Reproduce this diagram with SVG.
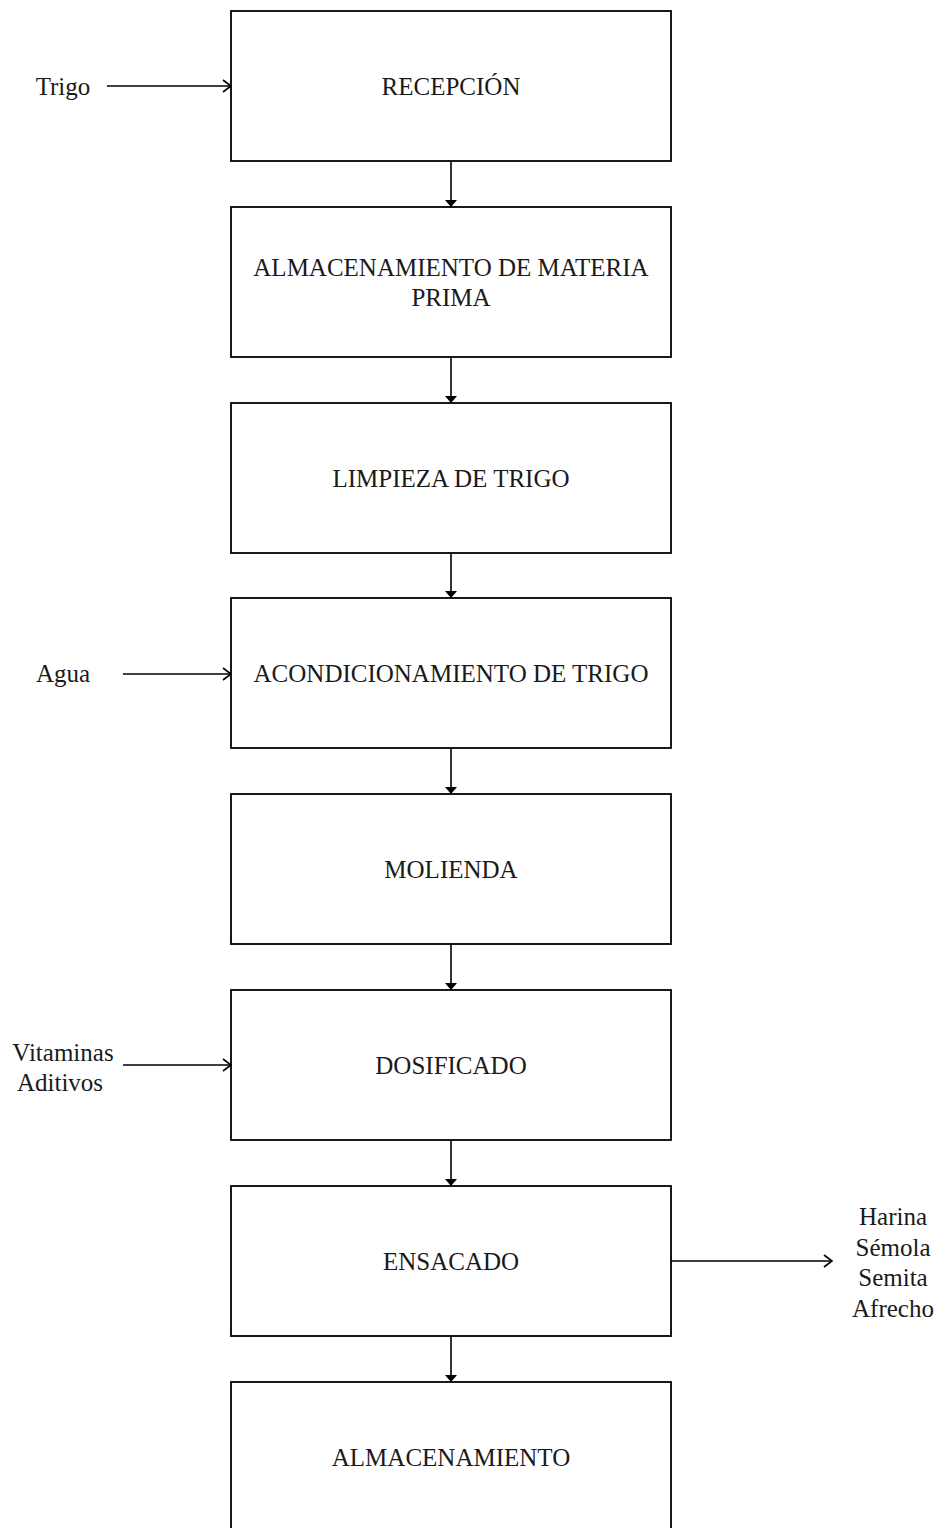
<svg xmlns="http://www.w3.org/2000/svg" width="939" height="1528" viewBox="0 0 939 1528">
<style>
.box{fill:#fff;stroke:#000;stroke-width:1.8}
.t{font-family:"Liberation Serif","Times New Roman",serif;font-size:25px;fill:#1a1a1a;text-anchor:middle}
.c{stroke:#000;stroke-width:1.6;fill:none}
</style>
<defs>
<marker id="tri" markerWidth="7" markerHeight="12" refX="7" refY="6" orient="auto" markerUnits="userSpaceOnUse">
<path d="M0,0 L7,6 L0,12 Z" fill="#000"/>
</marker>
<marker id="open" markerWidth="12" markerHeight="14" refX="11" refY="7" orient="auto" markerUnits="userSpaceOnUse">
<path d="M3,1 L11,7 L3,13" fill="none" stroke="#000" stroke-width="1.6"/>
</marker>
</defs>
<rect width="939" height="1528" fill="#fff"/>
<g id="n1"><rect class="box" x="231" y="11" width="440" height="150"/><text class="t" x="451" y="95">RECEPCIÓN</text></g>
<g id="n2"><rect class="box" x="231" y="207" width="440" height="150"/><text class="t" x="451" y="276">ALMACENAMIENTO DE MATERIA</text><text class="t" x="451" y="306">PRIMA</text></g>
<g id="n3"><rect class="box" x="231" y="403" width="440" height="150"/><text class="t" x="451" y="487">LIMPIEZA DE TRIGO</text></g>
<g id="n4"><rect class="box" x="231" y="598" width="440" height="150"/><text class="t" x="451" y="682">ACONDICIONAMIENTO DE TRIGO</text></g>
<g id="n5"><rect class="box" x="231" y="794" width="440" height="150"/><text class="t" x="451" y="878">MOLIENDA</text></g>
<g id="n6"><rect class="box" x="231" y="990" width="440" height="150"/><text class="t" x="451" y="1074">DOSIFICADO</text></g>
<g id="n7"><rect class="box" x="231" y="1186" width="440" height="150"/><text class="t" x="451" y="1270">ENSACADO</text></g>
<g id="n8"><rect class="box" x="231" y="1382" width="440" height="160"/><text class="t" x="451" y="1466">ALMACENAMIENTO</text></g>
<g id="inputs">
<text class="t" x="63" y="95">Trigo</text>
<text class="t" x="63" y="682">Agua</text>
<text class="t" x="63" y="1061">Vitaminas</text>
<text class="t" x="60" y="1091">Aditivos</text>
<text class="t" x="893" y="1225">Harina</text>
<text class="t" x="893" y="1256">Sémola</text>
<text class="t" x="893" y="1286">Semita</text>
<text class="t" x="893" y="1317">Afrecho</text>
</g>
<g id="connectors">
<line class="c" x1="451" y1="161" x2="451" y2="207" marker-end="url(#tri)"/>
<line class="c" x1="451" y1="357" x2="451" y2="403" marker-end="url(#tri)"/>
<line class="c" x1="451" y1="553" x2="451" y2="598" marker-end="url(#tri)"/>
<line class="c" x1="451" y1="748" x2="451" y2="794" marker-end="url(#tri)"/>
<line class="c" x1="451" y1="944" x2="451" y2="990" marker-end="url(#tri)"/>
<line class="c" x1="451" y1="1140" x2="451" y2="1186" marker-end="url(#tri)"/>
<line class="c" x1="451" y1="1336" x2="451" y2="1382" marker-end="url(#tri)"/>
<line class="c" x1="107" y1="86" x2="231" y2="86" marker-end="url(#open)"/>
<line class="c" x1="123" y1="674" x2="231" y2="674" marker-end="url(#open)"/>
<line class="c" x1="123" y1="1065" x2="231" y2="1065" marker-end="url(#open)"/>
<line class="c" x1="671" y1="1261" x2="832" y2="1261" marker-end="url(#open)"/>
</g>
</svg>
